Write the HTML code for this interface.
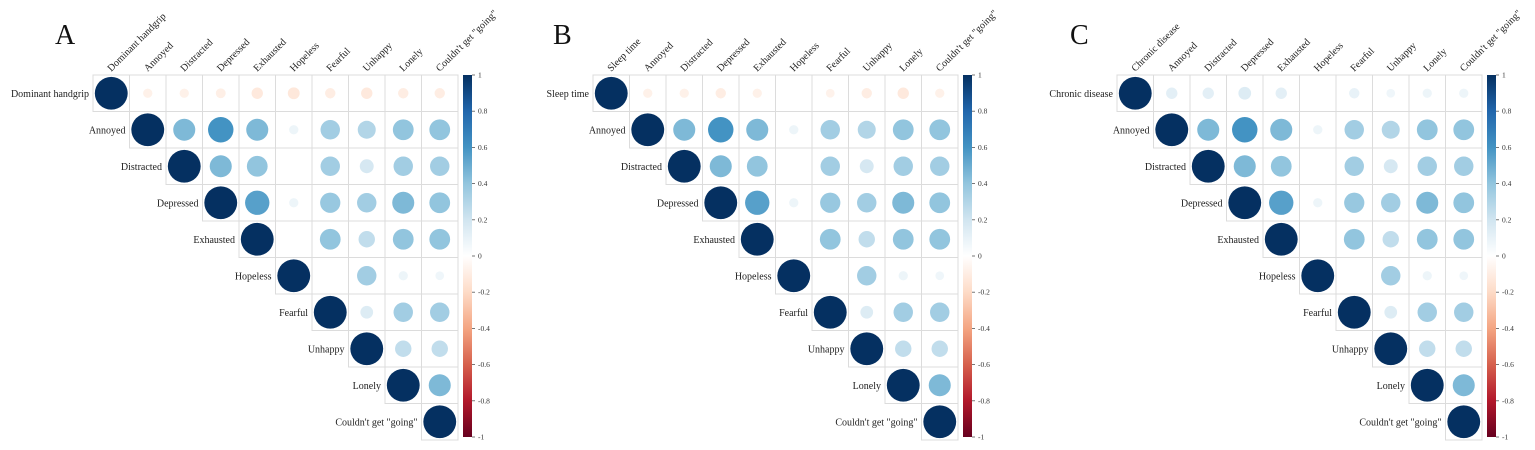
<!DOCTYPE html>
<html><head><meta charset="utf-8">
<style>
html,body{margin:0;padding:0;background:#fff;}
svg{display:block;font-family:"Liberation Serif",serif;}
</style></head>
<body>
<svg id="chart" width="1535" height="450" viewBox="0 0 1535 450" xmlns="http://www.w3.org/2000/svg"></svg>
<script>
// shared variables
const sharedVars = ["Annoyed","Distracted","Depressed","Exhausted","Hopeless","Fearful","Unhappy","Lonely","Couldn't get \"going\""];
// upper-triangle correlations among shared variables (row i, columns i+1..)
const sharedCorr = [
  [0.45,0.60,0.45,0.08,0.35,0.30,0.40,0.40],
  [0.45,0.40,0.0,0.35,0.18,0.35,0.35],
  [0.55,0.08,0.38,0.35,0.45,0.40],
  [0.0,0.40,0.25,0.40,0.40],
  [0.0,0.35,0.08,0.07],
  [0.15,0.35,0.35],
  [0.25,0.25],
  [0.45]
];
// first-variable rows per panel
const panelLetters = ["A","B","C"];
const firstVars = ["Dominant handgrip","Sleep time","Chronic disease"];
const firstRowA = [-0.08,-0.08,-0.09,-0.12,-0.13,-0.10,-0.12,-0.10,-0.10];
const firstRowB = [-0.08,-0.08,-0.10,-0.08,0.0,-0.07,-0.10,-0.12,-0.08];
const firstRowC = [0.12,0.12,0.15,0.12,0.0,0.10,0.07,0.08,0.08];
const firstRows = [firstRowA,firstRowB,firstRowC];
const colorTicks = [1,0.8,0.6,0.4,0.2,0,-0.2,-0.4,-0.6,-0.8,-1];

const layout = [
  {gx:93, letterX:55, cbX:463},
  {gx:593, letterX:553, cbX:963},
  {gx:1117, letterX:1070, cbX:1487}
];
const GY=75, CELL=36.5, N=10, CBW=9, CBTOP=75, CBBOT=437;
const NS="http://www.w3.org/2000/svg";
const svg=document.getElementById('chart');
function mk(tag,attrs,parent){const e=document.createElementNS(NS,tag);for(const k in attrs)e.setAttribute(k,attrs[k]);(parent||svg).appendChild(e);return e;}

const stops=[[-1,[103,0,31]],[-0.8,[178,24,43]],[-0.6,[214,96,77]],[-0.4,[244,165,130]],[-0.2,[253,219,199]],[0,[255,255,255]],[0.2,[209,229,240]],[0.4,[146,197,222]],[0.6,[67,147,195]],[0.8,[33,102,172]],[1,[5,48,97]]];
function color(v){
  for(let i=0;i<stops.length-1;i++){
    const a=stops[i],b=stops[i+1];
    if(v>=a[0]&&v<=b[0]){const t=(v-a[0])/(b[0]-a[0]);const c=a[1].map((x,j)=>Math.round(x+(b[1][j]-x)*t));return `rgb(${c[0]},${c[1]},${c[2]})`;}
  }
  return v>0?'rgb(5,48,97)':'rgb(103,0,31)';
}

// defs gradient
const defs=mk('defs',{});
const grad=mk('linearGradient',{id:'cbgrad',x1:0,y1:0,x2:0,y2:1},defs);
stops.slice().reverse().forEach(s=>{mk('stop',{offset:((1-s[0])/2*100)+'%','stop-color':`rgb(${s[1].join(',')})`},grad);});

layout.forEach((L,p)=>{
  const g=mk('g',{});
  
  
  const vars=[firstVars[p]].concat(sharedVars);
  const M=[];
  for(let i=0;i<N;i++){M.push([]);for(let j=0;j<N;j++)M[i].push(null);}
  for(let j=1;j<N;j++)M[0][j]=firstRows[p][j-1];
  for(let i=1;i<N;i++){M[i][i]=1;for(let j=i+1;j<N;j++)M[i][j]=sharedCorr[i-1][j-i-1];}
  M[0][0]=1;
  const xs=j=>L.gx+j*CELL, ys=i=>GY+i*CELL;
  const letter=mk('text',{x:L.letterX,y:44,'font-size':28,fill:'#111'},g);
  letter.textContent=panelLetters[p];
  
  
  for(let i=0;i<N;i++){
    for(let j=i;j<N;j++){
      const r=mk('rect',{x:xs(j),y:ys(i),width:CELL,height:CELL,fill:'none',stroke:'#dcdcdc','stroke-width':1},g);
      
      
      const v=M[i][j];
      if(v!==null&&Math.abs(v)>0.01){
        const c=mk('circle',{cx:xs(j)+CELL/2,cy:ys(i)+CELL/2,r:0.45*CELL*Math.sqrt(Math.abs(v)),fill:color(v)},g);
        
        
      }
    }
    // row label
    const rl=mk('text',{x:xs(i)-4,y:ys(i)+CELL/2+3.5,'font-size':10,'text-anchor':'end',fill:'#222'},g);
    rl.textContent=vars[i];
    
    
    // column label
    const cx=xs(i)+CELL/2, cy=GY-3;
    const cl=mk('text',{x:cx,y:cy,'font-size':10,fill:'#222',transform:`rotate(-45 ${cx} ${cy})`},g);
    cl.textContent=vars[i];
    
    
  }
  // colorbar
  const cb=mk('rect',{x:L.cbX,y:CBTOP,width:CBW,height:CBBOT-CBTOP,fill:'url(#cbgrad)'},g);
  
  
  colorTicks.forEach(t=>{
    const y=CBTOP+(1-t)/2*(CBBOT-CBTOP);
    mk('line',{x1:L.cbX+CBW,x2:L.cbX+CBW+3,y1:y,y2:y,stroke:'#555','stroke-width':0.8},g);
    const tl=mk('text',{x:L.cbX+CBW+6,y:y+2.5,'font-size':7.5,fill:'#333'},g);
    tl.textContent=String(t);
    
    
  });
});
</script>
</body></html>
